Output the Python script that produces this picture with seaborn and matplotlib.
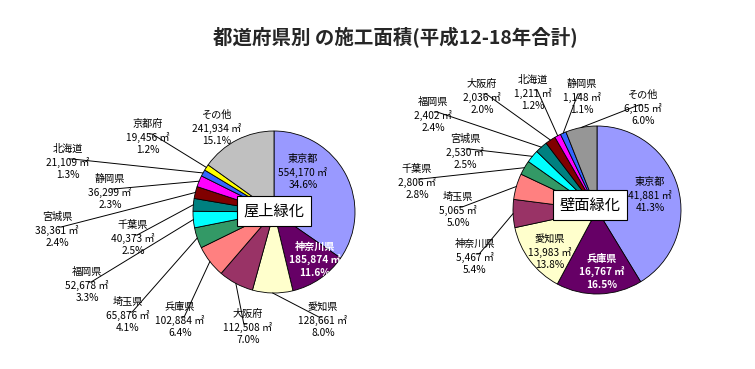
import numpy as np
import matplotlib.pyplot as plt
import seaborn as sns

# 屋上緑化 (roof greening)
roof_names = ["東京都", "神奈川県", "愛知県", "大阪府", "兵庫県", "埼玉県", "福岡県",
              "千葉県", "宮城県", "静岡県", "北海道", "京都府", "その他"]
roof_area = [554170, 185874, 128661, 112508, 102884, 65876, 52678,
             40373, 38361, 36299, 21109, 19456, 241934]
roof_pct = [34.6, 11.6, 8.0, 7.0, 6.4, 4.1, 3.3, 2.5, 2.4, 2.3, 1.3, 1.2, 15.1]

# 壁面緑化 (wall greening)
wall_names = ["東京都", "兵庫県", "愛知県", "神奈川県", "埼玉県", "千葉県", "宮城県",
              "福岡県", "大阪府", "北海道", "静岡県", "その他"]
wall_area = [41881, 16767, 13983, 5467, 5065, 2806, 2530, 2402, 2036, 1211, 1148, 6105]
wall_pct = [41.3, 16.5, 13.8, 5.4, 5.0, 2.8, 2.5, 2.4, 2.0, 1.2, 1.1, 6.0]

rank_colors = ["#9999FF", "#660066", "#FFFFCC", "#993366", "#FF8080", "#339966",
               "#00FFFF", "#008080", "#800000", "#FF00FF", "#3366FF", "#FFFF00"]

sns.set_theme(style="white")
plt.rcParams['font.family'] = ['Noto Sans CJK JP', 'DejaVu Sans']

W, H = 755, 369
fig = plt.figure(figsize=(W / 100, H / 100), dpi=100)
ax = fig.add_axes([0, 0, 1, 1])


def py(y):
    # pixel row -> data y
    return H - y


# label layout (pixel positions of label centers)
# "in" = inside the wedge, "inw" = inside in white, "near" = outside without leader line
roof_layout = {
    "東京都": (303, 172, "in"), "神奈川県": (315, 260, "inw"), "愛知県": (323, 320, "out"),
    "大阪府": (248, 327, "out"), "兵庫県": (180, 320, "out"), "埼玉県": (128, 315, "out"),
    "福岡県": (87, 285, "out"), "千葉県": (133, 238, "out"), "宮城県": (57, 230, "out"),
    "静岡県": (110, 192, "out"), "北海道": (68, 162, "out"), "京都府": (148, 137, "out"),
    "その他": (217, 128, "near"),
}
wall_layout = {
    "東京都": (650, 195, "in"), "兵庫県": (602, 272, "inw"), "愛知県": (550, 252, "in"),
    "神奈川県": (475, 257, "out"), "埼玉県": (458, 210, "out"), "千葉県": (417, 182, "out"),
    "宮城県": (465, 152, "out"), "福岡県": (433, 115, "out"), "大阪府": (482, 97, "out"),
    "北海道": (533, 93, "out"), "静岡県": (582, 97, "out"), "その他": (643, 108, "out"),
}


def draw_pie(names, area, pct, colors, center, radius, layout, title):
    cx, cy = center[0], py(center[1])
    wedges, _ = ax.pie(area, colors=colors, startangle=90, counterclock=False,
                       center=(cx, cy), radius=radius,
                       wedgeprops=dict(edgecolor="black", linewidth=0.6))
    fig.canvas.draw()
    renderer = fig.canvas.get_renderer()
    inv = ax.transData.inverted()
    for w, name, a, p in zip(wedges, names, area, pct):
        lx, ly, kind = layout[name]
        txt = f"{name}\n{a:,} ㎡\n{p:.1f}%"
        if kind == "inw":
            t = ax.text(lx, py(ly), txt, ha="center", va="center", fontsize=7.3,
                        color="white", fontweight="bold", linespacing=1.3)
        else:
            t = ax.text(lx, py(ly), txt, ha="center", va="center", fontsize=7.3,
                        color="black", linespacing=1.3)
        if kind != "out":
            continue
        ang = np.deg2rad((w.theta1 + w.theta2) / 2)
        ex, ey = cx + radius * np.cos(ang), cy + radius * np.sin(ang)
        bb = t.get_window_extent(renderer).transformed(inv)
        if bb.x0 < ex < bb.x1:
            # label sits straight above / below the wedge
            sx = lx
            sy = bb.y1 + 1 if ey > bb.y1 else bb.y0 - 1
            ax.plot([sx, ex], [sy, ey], color="black", lw=0.7)
            continue
        if bb.x1 < ex:
            sx, hx = bb.x1 + 1, bb.x1 + 4
        else:
            sx, hx = bb.x0 - 1, bb.x0 - 4
        sy = py(ly) + 3
        ax.plot([sx, hx, ex], [sy, sy, ey], color="black", lw=0.7)
    ax.text(cx + title[1], cy + title[2], title[0], ha="center", va="center",
            fontsize=11, color="black",
            bbox=dict(boxstyle="square,pad=0.45", fc="white", ec="black", lw=0.8))


draw_pie(roof_names, roof_area, roof_pct, rank_colors[:12] + ["#C0C0C0"],
         (274, 212), 81, roof_layout, ("屋上緑化", 0, 1))
draw_pie(wall_names, wall_area, wall_pct, rank_colors[:11] + ["#969696"],
         (597, 210), 84, wall_layout, ("壁面緑化", -7, 5))

ax.text(395, py(38), "都道府県別 の施工面積(平成12-18年合計)", ha="center", va="center",
        fontsize=14, fontweight="bold")

ax.set_xlim(0, W)
ax.set_ylim(0, H)
ax.set_aspect("equal")
ax.axis("off")

fig.savefig("out.png", dpi=100, facecolor="white")
